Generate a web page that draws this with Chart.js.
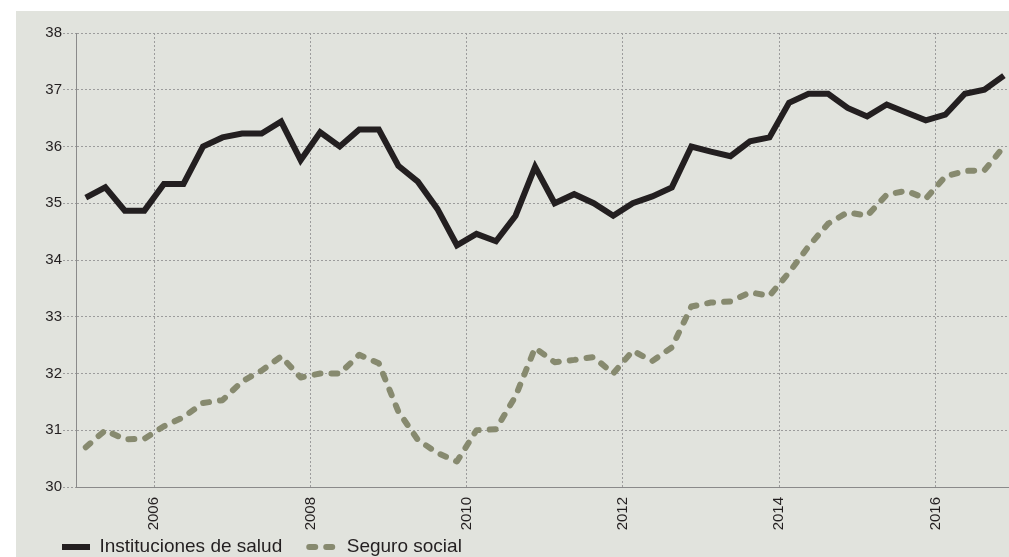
<!DOCTYPE html>
<html lang="es">
<head>
<meta charset="utf-8">
<title>Instituciones de salud y seguro social</title>
<script src="https://cdn.jsdelivr.net/npm/chart.js@4/dist/chart.umd.min.js"></script>
<style>
    html, body { margin: 0; padding: 0; background: #fff; overflow: hidden; }
    .marco {
        position: absolute; left: 16px; top: 11px;
        width: 993px; height: 546px;
        background: #e1e3dd; overflow: hidden;
    }
    .lienzo { position: relative; width: 993px; height: 577px; }
</style>
</head>
<body>
<div class="marco">
    <div class="lienzo"><canvas id="grafica"></canvas></div>
</div>
<script>
// Periodos trimestrales (año-trimestre)
const trimestres = [
    '2005-1', '2005-2', '2005-3', '2005-4',
    '2006-1', '2006-2', '2006-3', '2006-4',
    '2007-1', '2007-2', '2007-3', '2007-4',
    '2008-1', '2008-2', '2008-3', '2008-4',
    '2009-1', '2009-2', '2009-3', '2009-4',
    '2010-1', '2010-2', '2010-3', '2010-4',
    '2011-1', '2011-2', '2011-3', '2011-4',
    '2012-1', '2012-2', '2012-3', '2012-4',
    '2013-1', '2013-2', '2013-3', '2013-4',
    '2014-1', '2014-2', '2014-3', '2014-4',
    '2015-1', '2015-2', '2015-3', '2015-4',
    '2016-1', '2016-2', '2016-3', '2016-4'
];

// Series
const instituciones = [
    35.1, 35.28, 34.87, 34.87, 35.34, 35.34, 36.0, 36.16,
    36.23, 36.23, 36.44, 35.76, 36.25, 36.0, 36.3, 36.3,
    35.66, 35.38, 34.9, 34.26, 34.46, 34.33, 34.78, 35.64,
    35.0, 35.16, 35.0, 34.78, 35.0, 35.12, 35.28, 36.0,
    35.91, 35.83, 36.09, 36.16, 36.77, 36.93, 36.93, 36.68,
    36.53, 36.74, 36.6, 36.46, 36.56, 36.93, 37.0, 37.25
];
const seguro = [
    30.7, 31.0, 30.84, 30.85, 31.07, 31.23, 31.48, 31.53,
    31.86, 32.05, 32.3, 31.93, 32.0, 32.0, 32.33, 32.18,
    31.33, 30.83, 30.6, 30.45, 31.0, 31.02, 31.6, 32.45,
    32.2, 32.24, 32.29, 32.0, 32.4, 32.22, 32.46, 33.18,
    33.25, 33.27, 33.43, 33.37, 33.78, 34.24, 34.64, 34.84,
    34.78, 35.15, 35.22, 35.08, 35.47, 35.57, 35.58, 36.0
];

// Etiquetas de los ejes
const anios = [2006, 2008, 2010, 2012, 2014, 2016];
const valoresY = [30, 31, 32, 33, 34, 35, 36, 37, 38];

const FUENTE = '"Liberation Sans", Arial, Helvetica, sans-serif';
const TEXTO = '#231f20';
const REJILLA = '#9c9c9c';

// trimestre -> año decimal (mitad del trimestre)
function aX(periodo) {
    const [a, t] = periodo.split('-').map(Number);
    return a + (t - 0.5) / 4;
}

function puntos(serie) {
    return trimestres.map((p, i) => ({ x: aX(p), y: serie[i] }));
}

// sube la leyenda para que quede pegada a las etiquetas del eje x
const subirLeyenda = {
    id: 'subirLeyenda',
    afterLayout(chart) {
        const lg = chart.legend;
        const alto = lg.bottom - lg.top;
        lg.top = chart.chartArea.bottom + 23.5;
        lg.bottom = lg.top + alto;
    }
};

const ctx = document.getElementById('grafica').getContext('2d');
const chart = new Chart(ctx, {
    type: 'line',
    data: {
        datasets: [{
            label: 'Instituciones de salud',
            data: puntos(instituciones),
            borderColor: '#231f20',
            borderWidth: 6,
            borderCapStyle: 'butt',
            borderJoinStyle: 'miter',
            pointRadius: 0,
            tension: 0,
            fill: false
        }, {
            label: 'Seguro social',
            data: puntos(seguro),
            borderColor: '#878a6f',
            borderWidth: 6,
            borderDash: [6, 11],
            borderCapStyle: 'round',
            borderJoinStyle: 'round',
            pointRadius: 0,
            tension: 0,
            fill: false
        }]
    },
    options: {
        responsive: true,
        maintainAspectRatio: false,
        animation: false,
        layout: { padding: { left: 19, top: 22, right: 0, bottom: 0 } },
        scales: {
            x: {
                type: 'linear',
                min: 2005,
                max: 2016.94,
                afterBuildTicks: (scale) => { scale.ticks = anios.map(v => ({ value: v })); },
                afterFit: (scale) => { scale.height = 45; },
                ticks: {
                    color: TEXTO,
                    font: { family: FUENTE, size: 15 },
                    minRotation: 90,
                    maxRotation: 90,
                    padding: 10,
                    callback: (v) => String(v)
                },
                grid: { color: REJILLA, lineWidth: 1, drawTicks: false },
                border: { display: true, color: '#8a8a8a', width: 1, dash: [2, 2] }
            },
            y: {
                min: 30,
                max: 38,
                afterBuildTicks: (scale) => { scale.ticks = valoresY.map(v => ({ value: v })); },
                afterFit: (scale) => { scale.width = 41; },
                ticks: {
                    color: TEXTO,
                    font: { family: FUENTE, size: 15 },
                    padding: 1
                },
                grid: {
                    color: REJILLA,
                    lineWidth: 1,
                    tickLength: 13,
                    tickColor: REJILLA,
                    tickBorderDash: [2, 2]
                },
                border: { display: true, color: '#8a8a8a', width: 1, dash: [2, 2] }
            }
        },
        plugins: {
            tooltip: { enabled: false },
            legend: {
                position: 'bottom',
                align: 'start',
                labels: {
                    usePointStyle: true,
                    pointStyleWidth: 28,
                    padding: 27,
                    color: TEXTO,
                    font: { family: FUENTE, size: 19 },
                    generateLabels: (chart) => chart.data.datasets.map((ds, i) => ({
                        text: ds.label,
                        fillStyle: ds.borderColor,
                        strokeStyle: ds.borderColor,
                        lineWidth: 6,
                        lineDash: ds.borderDash || [],
                        lineCap: ds.borderCapStyle,
                        pointStyle: 'line',
                        fontColor: TEXTO,
                        hidden: !chart.isDatasetVisible(i),
                        datasetIndex: i
                    }))
                }
            }
        }
    },
    plugins: [subirLeyenda]
});
</script>
</body>
</html>
